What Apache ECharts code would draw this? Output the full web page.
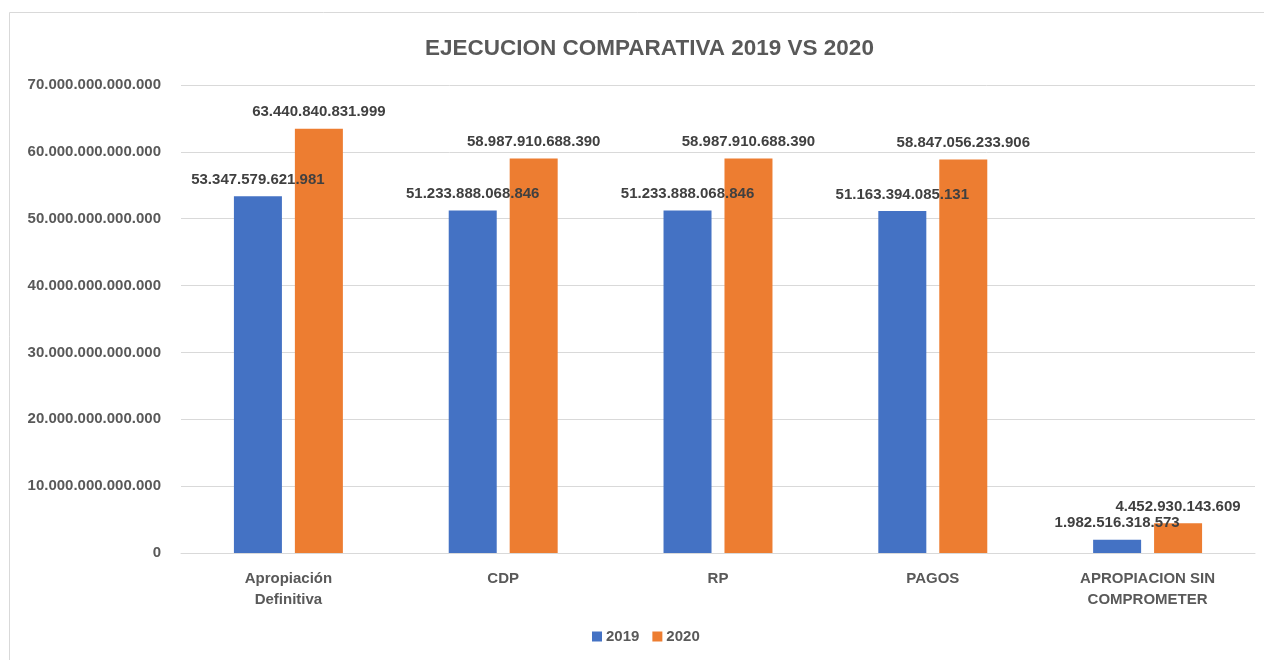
<!DOCTYPE html>
<html>
<head>
<meta charset="utf-8">
<script src="https://cdn.jsdelivr.net/npm/echarts@6/dist/echarts.min.js"></script>
<style>
html,body{margin:0;padding:0;background:#fff;}
#c{width:1264px;height:660px;}
</style>
</head>
<body>
<div id="c"></div>
<script>
var categories = ['Apropiación\nDefinitiva', 'CDP', 'RP', 'PAGOS', 'APROPIACION SIN\nCOMPROMETER'];
var values2019 = [53347579621981, 51233888068846, 51233888068846, 51163394085131, 1982516318573];
var values2020 = [63440840831999, 58987910688390, 58987910688390, 58847056233906, 4452930143609];
var seriesNames = ['2019', '2020'];
var titleText = 'EJECUCION COMPARATIVA 2019 VS 2020';

function fmt(v) {
  return String(Math.round(v)).replace(/\B(?=(\d{3})+(?!\d))/g, '.');
}
var FONT = '"Liberation Sans", Arial, sans-serif';
var chart = echarts.init(document.getElementById('c'), null, {renderer: 'canvas'});
var labelStyle = {
  show: true, position: 'top', distance: 9,
  color: '#404040', fontFamily: FONT, fontWeight: 'bold', fontSize: 15,
  formatter: function (p) { return fmt(p.value); }
};
chart.setOption({
  animation: false,
  backgroundColor: '#fff',
  graphic: [{
    type: 'rect', z: -10,
    shape: {x: 9.5, y: 12.5, width: 1300, height: 700},
    style: {fill: 'none', stroke: '#d9d9d9', lineWidth: 1}
  }],
  title: {
    text: titleText, left: 420, top: 32,
    textStyle: {color: '#595959', fontFamily: FONT, fontWeight: 'bold', fontSize: 22.5}
  },
  legend: {
    data: seriesNames, bottom: 11, left: 587,
    itemWidth: 10, itemHeight: 10, itemGap: 13, icon: 'rect',
    textStyle: {color: '#595959', fontFamily: FONT, fontWeight: 'bold', fontSize: 15, padding: [0,0,0,-1]}
  },
  grid: {left: 181, right: 9, top: 85, bottom: 107, containLabel: false},
  xAxis: {
    type: 'category', data: categories,
    axisTick: {show: false},
    axisLine: {show: true, lineStyle: {color: '#d9d9d9', width: 1}},
    axisLabel: {color: '#595959', fontFamily: FONT, fontWeight: 'bold', fontSize: 15, margin: 15, lineHeight: 21, interval: 0}
  },
  yAxis: {
    type: 'value', min: 0, max: 70000000000000, interval: 10000000000000,
    axisLine: {show: false}, axisTick: {show: false},
    splitLine: {lineStyle: {color: '#d9d9d9', width: 1}},
    axisLabel: {color: '#595959', fontFamily: FONT, fontWeight: 'bold', fontSize: 15, margin: 20,
      formatter: function (v) { return fmt(v); }}
  },
  series: [
    {name: seriesNames[0], type: 'bar', data: values2019, barWidth: 48, barGap: '27%',
     itemStyle: {color: '#4472C4'}, label: labelStyle},
    {name: seriesNames[1], type: 'bar', data: values2020, barWidth: 48, barGap: '27%',
     itemStyle: {color: '#ED7D31'}, label: labelStyle}
  ]
});
</script>
</body>
</html>
